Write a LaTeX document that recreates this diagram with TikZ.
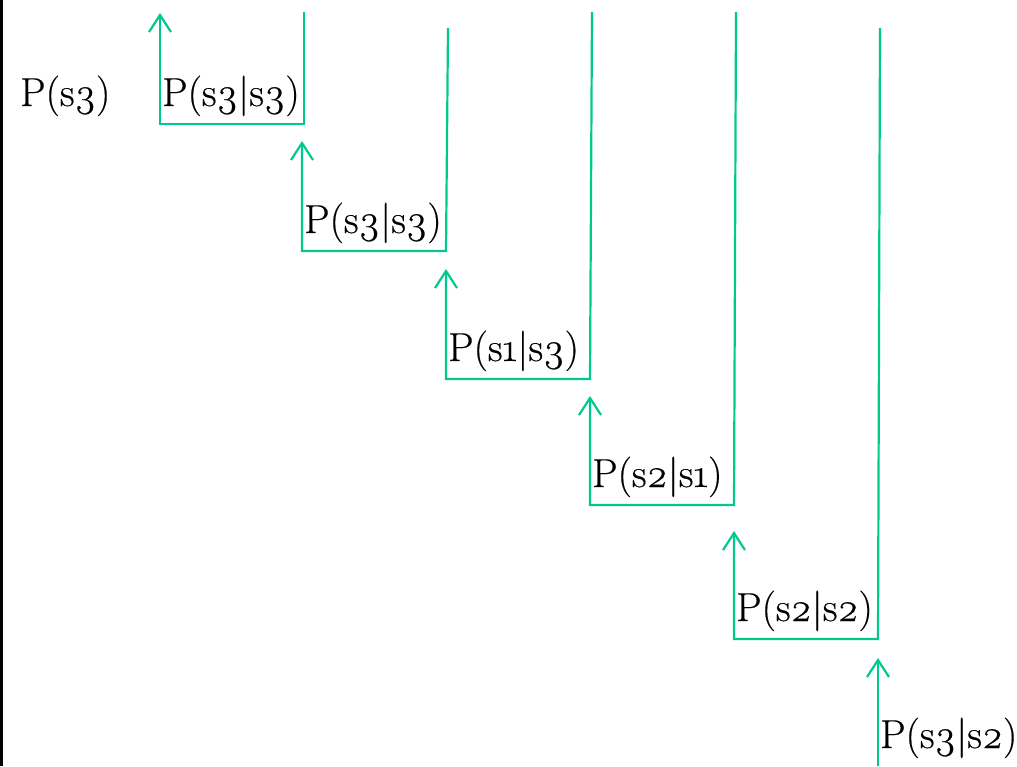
\documentclass[tikz,border=0pt]{standalone}
\usepackage{fontspec}
\setmainfont{Latin Modern Roman}[Numbers=OldStyle,FakeBold=0.4]
\usetikzlibrary{arrows.meta}
\definecolor{flowgreen}{RGB}{0,201,142}
\begin{document}
\begin{tikzpicture}[x=1pt,y=-1pt,
  flow/.style={draw=flowgreen,line width=2.2pt,line join=miter,
    -{Straight Barb[length=17pt,width=22pt,line width=2.2pt]}},
  lbl/.style={anchor=base west,inner sep=0pt,font=\fontsize{40.5}{44}\selectfont}]
\useasboundingbox (0,0) rectangle (1017,766);
% left border
\draw[line width=3pt] (1.5,0) -- (1.5,766);

% step corners: top of right riser (r), bottom right (c), bottom left (b), arrow tip (t)
\coordinate (r1) at (304,12);  \coordinate (c1) at (304,124); \coordinate (b1) at (160,124); \coordinate (t1) at (160,13);
\coordinate (r2) at (448,28);  \coordinate (c2) at (446,251); \coordinate (b2) at (302,251); \coordinate (t2) at (302,141);
\coordinate (r3) at (592,12);  \coordinate (c3) at (590,379); \coordinate (b3) at (446,379); \coordinate (t3) at (446,269);
\coordinate (r4) at (736,12);  \coordinate (c4) at (734,505); \coordinate (b4) at (590,505); \coordinate (t4) at (590,396);
\coordinate (r5) at (880,28);  \coordinate (c5) at (878,639); \coordinate (b5) at (734,639); \coordinate (t5) at (734,531);
\coordinate (b6) at (878,766); \coordinate (t6) at (878,658);

\draw[flow] (r1) -- (c1) -- (b1) -- (t1);
\draw[flow] (r2) -- (c2) -- (b2) -- (t2);
\draw[flow] (r3) -- (c3) -- (b3) -- (t3);
\draw[flow] (r4) -- (c4) -- (b4) -- (t4);
\draw[flow] (r5) -- (c5) -- (b5) -- (t5);
\draw[flow] (b6) -- (t6);

% labels
\node[lbl] (p0) at (20,106) {P(s3)};
\node[lbl] (p1) at (162,106) {P(s3|s3)};
\node[lbl] (p2) at (304,233) {P(s3|s3)};
\node[lbl] (p3) at (448,361) {P(s1|s3)};
\node[lbl] (p4) at (592,487) {P(s2|s1)};
\node[lbl] (p5) at (736,621) {P(s2|s2)};
\node[lbl] (p6) at (880,748) {P(s3|s2)};
\end{tikzpicture}
\end{document}
